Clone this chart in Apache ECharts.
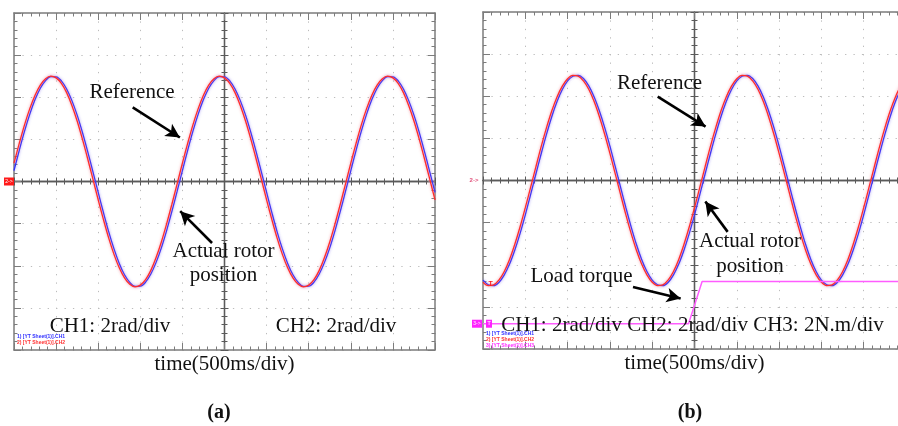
<!DOCTYPE html>
<html>
<head>
<meta charset="utf-8">
<script src="https://cdn.jsdelivr.net/npm/echarts@6/dist/echarts.min.js"></script>
<style>
  html, body { margin: 0; padding: 0; background: #ffffff; }
  #chart { width: 898px; height: 426px; }
</style>
</head>
<body>
<div id="chart"></div>
<script>
// Sample instants (ms), one every eighth of a 500 ms division
const timeMs = [0,62.5,125,187.5,250,312.5,375,437.5,500,562.5,625,687.5,750,812.5,875,937.5,
  1000,1062.5,1125,1187.5,1250,1312.5,1375,1437.5,1500,1562.5,1625,1687.5,1750,1812.5,1875,1937.5,
  2000,2062.5,2125,2187.5,2250,2312.5,2375,2437.5,2500,2562.5,2625,2687.5,2750,2812.5,2875,2937.5,
  3000,3062.5,3125,3187.5,3250,3312.5,3375,3437.5,3500,3562.5,3625,3687.5,3750,3812.5,3875,3937.5,
  4000,4062.5,4125,4187.5,4250,4312.5,4375,4437.5,4500,4562.5,4625,4687.5,4750,4812.5,4875,4937.5,5000];

// (a) no-load: reference (CH2) and actual rotor position (CH1), rad
const refA = [0.87,1.81,2.69,3.46,4.10,4.58,4.88,5.00,4.92,4.66,4.22,3.61,2.87,2.01,1.08,0.11,
  -0.87,-1.81,-2.69,-3.46,-4.10,-4.58,-4.88,-5.00,-4.92,-4.66,-4.22,-3.61,-2.87,-2.01,-1.08,-0.11,
  0.87,1.81,2.69,3.46,4.10,4.58,4.88,5.00,4.92,4.66,4.22,3.61,2.87,2.01,1.08,0.11,
  -0.87,-1.81,-2.69,-3.46,-4.10,-4.58,-4.88,-5.00,-4.92,-4.66,-4.22,-3.61,-2.87,-2.01,-1.08,-0.11,
  0.87,1.81,2.69,3.46,4.10,4.58,4.88,5.00,4.92,4.66,4.22,3.61,2.87,2.01,1.08,0.11,-0.87];
const actA = [0.52,1.48,2.39,3.20,3.89,4.43,4.79,4.98,4.97,4.78,4.39,3.84,3.15,2.33,1.42,0.46,
  -0.52,-1.48,-2.39,-3.20,-3.89,-4.43,-4.79,-4.98,-4.97,-4.78,-4.39,-3.84,-3.15,-2.33,-1.42,-0.46,
  0.52,1.48,2.39,3.20,3.89,4.43,4.79,4.98,4.97,4.78,4.39,3.84,3.15,2.33,1.42,0.46,
  -0.52,-1.48,-2.39,-3.20,-3.89,-4.43,-4.79,-4.98,-4.97,-4.78,-4.39,-3.84,-3.15,-2.33,-1.42,-0.46,
  0.52,1.48,2.39,3.20,3.89,4.43,4.79,4.98,4.97,4.78,4.39,3.84,3.15,2.33,1.42,0.46,-0.52];

// (b) load step: reference (CH2), actual position (CH1), rad
const refB = [-4.83,-4.99,-4.96,-4.73,-4.33,-3.76,-3.04,-2.21,-1.29,-0.33,0.65,1.61,2.50,3.30,3.97,4.48,
  4.83,4.99,4.96,4.73,4.33,3.76,3.04,2.21,1.29,0.33,-0.65,-1.61,-2.50,-3.30,-3.97,-4.48,
  -4.83,-4.99,-4.96,-4.73,-4.33,-3.76,-3.04,-2.21,-1.29,-0.33,0.65,1.61,2.50,3.30,3.97,4.48,
  4.83,4.99,4.96,4.73,4.33,3.76,3.04,2.21,1.29,0.33,-0.65,-1.61,-2.50,-3.30,-3.97,-4.48,
  -4.83,-4.99,-4.96,-4.73,-4.33,-3.76,-3.04,-2.21,-1.29,-0.33,0.65,1.61,2.50,3.30,3.97,4.48,4.83];
const actB = [-4.73,-4.95,-4.99,-4.84,-4.49,-3.98,-3.31,-2.52,-1.63,-0.67,0.31,1.27,2.19,3.03,3.75,4.32,
  4.73,4.95,4.99,4.84,4.49,3.98,3.31,2.52,1.63,0.67,-0.31,-1.27,-2.19,-3.03,-3.75,-4.32,
  -4.73,-4.95,-4.99,-4.84,-4.49,-3.98,-3.31,-2.52,-1.63,-0.67,0.31,1.27,2.19,3.03,3.75,4.32,
  4.73,4.95,4.99,4.84,4.49,3.98,3.31,2.52,1.63,0.67,-0.31,-1.27,-2.19,-3.03,-3.75,-4.32,
  -4.73,-4.95,-4.99,-4.84,-4.49,-3.98,-3.31,-2.52,-1.63,-0.67,0.31,1.27,2.19,3.03,3.75,4.32,4.73];

// (b) load torque (CH3), N.m
const torqueTime = [0, 2430, 2590, 5000];
const torqueB = [0, 0, 2, 2];

const pairs = (xs, ys) => xs.map((x, i) => [x, ys[i]]);

const FRAME = '#7c7c7c';
const CROSS = '#5a5a5a';
const DOT = '#bcbcbc';
const RED = '#ff2b2b';
const BLUE = '#2e2eff';
const MAGENTA = '#ff5cff';
const SERIF = '"Liberation Serif", "Times New Roman", serif';

const GA = { left: 14, top: 13, width: 421, height: 337 };
const GB = { left: 483, top: 12, width: 423, height: 337 };

const dotted = { color: DOT, width: 1, type: [1.3, 7.12] };

function xAxesFor(gi, g) {
  const base = { type: 'value', gridIndex: gi, min: 0, max: 5000, interval: 500,
                 axisLabel: { show: false }, splitLine: { show: false } };
  const frame = {
    axisLine: { onZero: false, lineStyle: { color: FRAME, width: 1.5 } },
    axisTick: { inside: true, length: 7, lineStyle: { color: FRAME } },
    minorTick: { show: true, splitNumber: 5, length: 3.5, lineStyle: { color: FRAME } }
  };
  const cross = (inside, len) => ({
    axisLine: { onZero: false, lineStyle: { color: CROSS, width: 1.3 } },
    axisTick: { inside: inside, length: len, lineStyle: { color: CROSS } },
    minorTick: { show: true, splitNumber: 5, length: 3, lineStyle: { color: CROSS } }
  });
  return [
    Object.assign({}, base, frame, {
      position: 'bottom', splitLine: { show: true, lineStyle: dotted },
      name: 'time(500ms/div)', nameLocation: 'middle', nameGap: 4,
      nameTextStyle: { fontFamily: SERIF, fontSize: 21, color: '#111' }
    }),
    Object.assign({}, base, frame, { position: 'top' }),
    Object.assign({}, base, cross(true, 4), { position: 'bottom', offset: -g.height / 2 }),
    Object.assign({}, base, cross(false, 4), { position: 'bottom', offset: -g.height / 2 })
  ];
}

function yAxesFor(gi, g) {
  const base = { type: 'value', gridIndex: gi, min: -8, max: 8, interval: 2,
                 axisLabel: { show: false }, splitLine: { show: false } };
  const frame = {
    axisLine: { onZero: false, lineStyle: { color: FRAME, width: 1.5 } },
    axisTick: { inside: true, length: 7, lineStyle: { color: FRAME } },
    minorTick: { show: true, splitNumber: 5, length: 3.5, lineStyle: { color: FRAME } }
  };
  const cross = (inside, len) => ({
    axisLine: { onZero: false, lineStyle: { color: CROSS, width: 1.3 } },
    axisTick: { inside: inside, length: len, lineStyle: { color: CROSS } },
    minorTick: { show: true, splitNumber: 5, length: 3, lineStyle: { color: CROSS } }
  });
  return [
    Object.assign({}, base, frame, { position: 'left', splitLine: { show: true, lineStyle: dotted } }),
    Object.assign({}, base, frame, { position: 'right' }),
    Object.assign({}, base, cross(true, 4), { position: 'left', offset: -g.width / 2 }),
    Object.assign({}, base, cross(false, 4), { position: 'left', offset: -g.width / 2 })
  ];
}

const arrowLine = { color: '#000', width: 2.6, type: 'solid' };
function arrow(from, to) {
  return [{ coord: from, symbol: 'none' }, { coord: to, symbol: 'arrow', symbolSize: [11, 14] }];
}

function label(text, x, y, opts) {
  return {
    type: 'text', x: x, y: y, silent: true, z: 50,
    style: Object.assign({ text: text, fill: '#111', font: '21px ' + SERIF,
                           textAlign: 'center', textVerticalAlign: 'middle' }, opts || {})
  };
}
function tiny(text, x, y, color) {
  return {
    type: 'text', x: x, y: y, silent: true, z: 50,
    style: { text: text, fill: color, font: 'bold 5px "Liberation Sans", Arial, sans-serif',
             textAlign: 'left', textVerticalAlign: 'middle' }
  };
}

const traceStyle = (color, halo) => ({
  color: color, width: 1.3, shadowBlur: 3, shadowColor: halo
});

const option = {
  animation: false,
  backgroundColor: '#ffffff',
  grid: [
    Object.assign({ containLabel: false, outerBoundsMode: 'none' }, GA),
    Object.assign({ containLabel: false, outerBoundsMode: 'none' }, GB)
  ],
  xAxis: xAxesFor(0, GA).concat(xAxesFor(1, GB)),
  yAxis: yAxesFor(0, GA).concat(yAxesFor(1, GB)).concat([
    // CH3 torque scale: 2 N.m/div, zero placed 3.4 div below centre
    { type: 'value', gridIndex: 1, min: -1.2, max: 14.8, show: false }
  ]),
  series: [
    {
      name: 'CH1', type: 'line', xAxisIndex: 0, yAxisIndex: 0, z: 3,
      data: pairs(timeMs, actA), smooth: 0.35, showSymbol: false, symbol: 'none',
      lineStyle: traceStyle(BLUE, 'rgba(110,110,255,0.7)')
    },
    {
      name: 'CH2', type: 'line', xAxisIndex: 0, yAxisIndex: 0, z: 4,
      data: pairs(timeMs, refA), smooth: 0.35, showSymbol: false, symbol: 'none',
      lineStyle: traceStyle(RED, 'rgba(255,120,120,0.7)'),
      markPoint: {
        silent: true, animation: false,
        data: [{
          coord: [0, 0], symbol: 'rect', symbolSize: [10, 8], symbolOffset: [-5, 0],
          itemStyle: { color: '#ff1a1a' },
          label: { show: true, position: 'inside', formatter: '2->', color: '#fff', fontSize: 5 }
        }]
      },
      markLine: {
        silent: true, animation: false, lineStyle: arrowLine, label: { show: false },
        data: [arrow([1410, 3.52], [1970, 2.09]), arrow([2352, -2.92], [1974, -1.41])]
      }
    },
    {
      name: 'CH1', type: 'line', xAxisIndex: 4, yAxisIndex: 4, z: 3,
      data: pairs(timeMs, actB), smooth: 0.35, showSymbol: false, symbol: 'none',
      lineStyle: traceStyle(BLUE, 'rgba(110,110,255,0.7)')
    },
    {
      name: 'CH2', type: 'line', xAxisIndex: 4, yAxisIndex: 4, z: 4,
      data: pairs(timeMs, refB), smooth: 0.35, showSymbol: false, symbol: 'none',
      lineStyle: traceStyle(RED, 'rgba(255,120,120,0.7)'),
      markPoint: {
        silent: true, animation: false,
        data: [
          { coord: [0, 0], symbol: 'rect', symbolSize: [1, 1], symbolOffset: [-9, 0],
            itemStyle: { color: 'rgba(0,0,0,0)' },
            label: { show: true, position: 'inside', formatter: '2->', color: '#e0507a', fontSize: 6, fontWeight: 'bold' } },
          { coord: [90, -4.9], symbol: 'rect', symbolSize: [1, 1],
            itemStyle: { color: 'rgba(0,0,0,0)' },
            label: { show: true, position: 'inside', formatter: 'T', color: '#ff1a1a', fontSize: 7, fontWeight: 'bold' } }
        ]
      },
      markLine: {
        silent: true, animation: false, lineStyle: arrowLine, label: { show: false },
        data: [arrow([2065, 3.98], [2631, 2.56]), arrow([2892, -2.44], [2628, -1.00])]
      }
    },
    {
      name: 'CH3', type: 'line', xAxisIndex: 4, yAxisIndex: 8, z: 4,
      data: pairs(torqueTime, torqueB), smooth: false, showSymbol: false, symbol: 'none',
      lineStyle: { color: MAGENTA, width: 1.5 },
      markPoint: {
        silent: true, animation: false,
        data: [
          { coord: [0, 0], symbol: 'rect', symbolSize: [10, 8], symbolOffset: [-6, 0],
            itemStyle: { color: '#ff22ff' },
            label: { show: true, position: 'inside', formatter: '3->', color: '#fff', fontSize: 5 } },
          { coord: [0, 0], symbol: 'rect', symbolSize: [6, 8], symbolOffset: [6, 0],
            itemStyle: { color: '#ff22ff' },
            label: { show: true, position: 'inside', formatter: 'T', color: '#fff', fontSize: 6 } }
        ]
      }
    },
    {
      // carries the load-torque arrow in panel (b)
      type: 'line', xAxisIndex: 4, yAxisIndex: 4, data: [], silent: true,
      markLine: {
        silent: true, animation: false, lineStyle: arrowLine, label: { show: false },
        data: [arrow([1773, -5.06], [2336, -5.60])]
      }
    }
  ],
  graphic: [
    label('Reference', 132, 92.5),
    label('Actual rotor', 223.5, 251.5),
    label('position', 223.5, 275),
    label('CH1: 2rad/div', 110, 326.5),
    label('CH2: 2rad/div', 336, 326.5),
    label('(a)', 219, 412.5, { font: 'bold 20px ' + SERIF }),
    tiny('1) [YT Sheet(1)].CH1', 17, 336.5, '#3030ff'),
    tiny('2) [YT Sheet(1)].CH2', 17, 343, '#ff3030'),

    label('Reference', 659.5, 83),
    label('Actual rotor', 750, 241.5),
    label('position', 750, 266),
    label('Load torque', 581.5, 276.5),
    label('CH1: 2rad/div CH2: 2rad/div CH3: 2N.m/div', 692.5, 325.5),
    label('(b)', 690, 412.5, { font: 'bold 20px ' + SERIF }),
    tiny('1) [YT Sheet(1)].CH1', 486, 334, '#3030ff'),
    tiny('2) [YT Sheet(1)].CH2', 486, 340, '#ff3030'),
    tiny('3) [YT Sheet(1)].CH3', 486, 346, '#ff30ff')
  ]
};

const chart = echarts.init(document.getElementById('chart'), null, { renderer: 'canvas' });
chart.setOption(option);
</script>
</body>
</html>
